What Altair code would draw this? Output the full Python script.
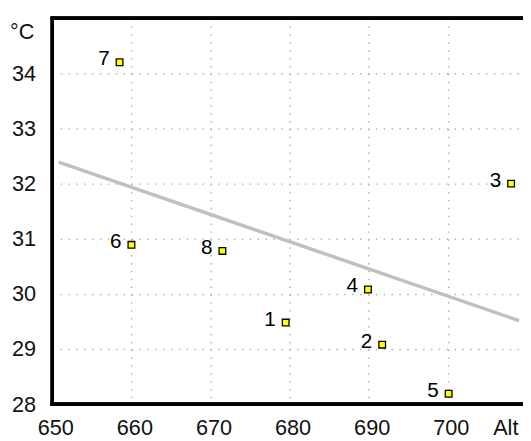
import altair as alt
import pandas as pd

# Point data
ids = [1, 2, 3, 4, 5, 6, 7, 8]
alt_vals = [679.5, 691.7, 708.0, 689.9, 700.1, 660.0, 658.5, 671.5]
temps = [29.48, 29.08, 32.0, 30.08, 28.19, 30.89, 34.2, 30.78]

# Trend line end points
line_x = [650.8, 709.0]
line_y = [32.39, 29.515]

x_ticks = [650, 660, 670, 680, 690, 700]
y_ticks = [28, 29, 30, 31, 32, 33, 34]

W, H = 478, 392
FONT = "Liberation Sans, Arial, sans-serif"

pts = pd.DataFrame({"id": [str(i) for i in ids], "alt": alt_vals, "temp": temps})
trend = pd.DataFrame({"alt": line_x, "temp": line_y})

xs = alt.Scale(domain=[650, 709.5], nice=False, zero=False)
ys = alt.Scale(domain=[28, 35], nice=False, zero=False)

x_axis = alt.Axis(values=x_ticks, format="d", title="Alt", titleX=460, titleY=14,
                  titleAlign="center", titleBaseline="top", labelPadding=14,
                  labelOffset=3, labelFlush=False)
y_axis = alt.Axis(values=y_ticks, format="d", title="°C", titleAngle=0, titleX=-31, titleY=4,
                  titleAlign="center", titleBaseline="top", labelPadding=17)

base = alt.Chart(pts)

grid = base.mark_point(opacity=0).encode(
    x=alt.X("alt:Q", scale=xs, axis=x_axis),
    y=alt.Y("temp:Q", scale=ys, axis=y_axis),
)

line = alt.Chart(trend).mark_line(color="#c0c0c0", strokeWidth=3.5).encode(
    x=alt.X("alt:Q", scale=xs),
    y=alt.Y("temp:Q", scale=ys),
)

squares = base.mark_square(size=46, fill="#ffff00", stroke="black",
                           strokeWidth=1.3, opacity=1).encode(
    x=alt.X("alt:Q", scale=xs),
    y=alt.Y("temp:Q", scale=ys),
)

labels = base.mark_text(align="right", baseline="middle", dx=-10, dy=-3,
                        font=FONT, fontSize=21, color="black").encode(
    x=alt.X("alt:Q", scale=xs),
    y=alt.Y("temp:Q", scale=ys),
    text="id:N",
)

border_left = alt.Chart(pts).mark_rule(color="black", strokeWidth=3, strokeCap="square").encode(
    x=alt.value(0), y=alt.value(0), y2=alt.value(H))
border_top = alt.Chart(pts).mark_rule(color="black", strokeWidth=3, strokeCap="square").encode(
    y=alt.value(0), x=alt.value(0), x2=alt.value(W + 10))
border_bottom = alt.Chart(pts).mark_rule(color="black", strokeWidth=3, strokeCap="square").encode(
    y=alt.value(H), x=alt.value(0), x2=alt.value(W + 10))

chart = alt.layer(grid, line, squares, labels, border_left, border_top, border_bottom).properties(
    width=W, height=H,
    autosize=alt.AutoSizeParams(type="none"),
    padding={"left": 45, "top": 7, "right": 0, "bottom": 34},
).configure_view(stroke=None).configure_axis(
    grid=True, gridColor="#b4b4b4", gridWidth=1.5, gridDash=[1.5, 6.5],
    domain=False, ticks=False,
    labelFont=FONT, labelFontSize=22, labelColor="#111111",
    titleFont=FONT, titleFontSize=22, titleFontWeight="normal", titleColor="#111111",
)

chart.save("out.html", embed_options={"renderer": "svg", "actions": False})
